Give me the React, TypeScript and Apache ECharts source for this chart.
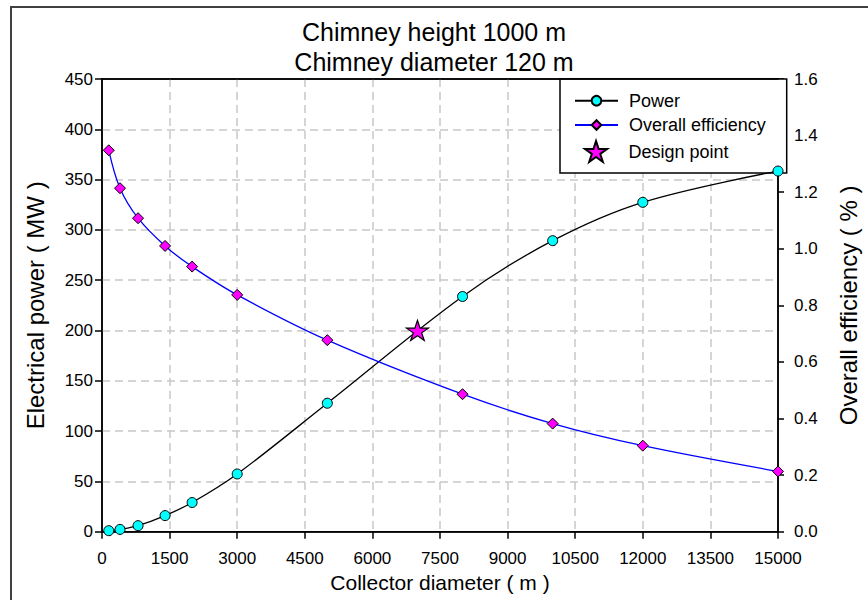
import React, { useEffect, useRef } from "react";
import * as echarts from "echarts";

// ---- data ----
const collectorDiameter = [150, 400, 800, 1400, 2000, 3000, 5000, 8000, 10000, 12000, 15000];
const electricalPower = [1, 2.3, 6, 16, 29, 57.4, 127.7, 233.8, 289.3, 327.4, 358.5];
const overallEfficiency = [1.348, 1.214, 1.108, 1.01, 0.937, 0.837, 0.677, 0.486, 0.382, 0.304, 0.213];
const designDiameter = [7000];
const designPower = [200];

const titleLines = ["Chimney height 1000 m", "Chimney diameter 120 m"];
const seriesNames = ["Power", "Overall efficiency", "Design point"];

const FONT = "'Liberation Sans', Arial, Helvetica, sans-serif";
const STAR =
  "path://M50 0 L61.23 34.55 L97.55 34.55 L68.16 55.9 L79.39 90.45 L50 69.1 L20.61 90.45 L31.84 55.9 L2.45 34.55 L38.77 34.55 Z";

const gridLine = {
  show: true,
  showMinLine: false,
  showMaxLine: false,
  lineStyle: { color: "#c8c8c8", type: [8, 5] as any, width: 1.5 },
};
const axisLineStyle = { show: true, onZero: false, lineStyle: { color: "#000", width: 1.5 } };

export default function App() {
  const ref = useRef<HTMLDivElement>(null);

  useEffect(() => {
    if (!ref.current) return;
    const chart = echarts.init(ref.current, null, { renderer: "svg" });

    const option: any = {
      animation: false,
      backgroundColor: "#fff",
      textStyle: { fontFamily: FONT },
      title: {
        text: titleLines.join("\n"),
        left: "center",
        top: 17,
        padding: 0,
        textStyle: { fontSize: 25, lineHeight: 30, fontWeight: "normal", color: "#000", fontFamily: FONT },
      },
      graphic: [
        {
          type: "rect",
          z: 0,
          shape: { x: 11, y: 7, width: 1000, height: 1000 },
          style: { fill: "none", stroke: "#404040", lineWidth: 2 },
        },
        {
          type: "rect",
          z: 1,
          shape: { x: 560, y: 79, width: 226.7, height: 94 },
          style: { fill: "#fff", stroke: "#000", lineWidth: 1.5 },
        },
      ],
      legend: [
        {
          data: [seriesNames[0], seriesNames[1]],
          orient: "vertical",
          left: 574,
          top: 91.7,
          padding: 0,
          itemWidth: 43,
          itemHeight: 12,
          itemGap: 6.3,
          textStyle: { fontSize: 18, lineHeight: 18, color: "#000", fontFamily: FONT, padding: [0, 0, 0, 6] },
        },
        {
          data: [seriesNames[2]],
          orient: "vertical",
          left: 584,
          top: 140,
          padding: 0,
          itemWidth: 43,
          itemHeight: 21,
          textStyle: { fontSize: 18, lineHeight: 18, color: "#000", fontFamily: FONT, padding: [0, 0, 0, 6] },
        },
      ],
      grid: {
        left: 102,
        right: 81.3,
        top: 79,
        bottom: 68.3,
        show: true,
        borderColor: "#000",
        borderWidth: 1.5,
        backgroundColor: "transparent",
      },
      xAxis: [
        {
          type: "value",
          position: "bottom",
          min: 0,
          max: 15000,
          interval: 1500,
          name: "Collector diameter ( m )",
          nameLocation: "middle",
          nameGap: 39,
          nameTextStyle: { fontSize: 21, color: "#000", fontFamily: FONT },
          axisLine: axisLineStyle,
          axisTick: { show: true, length: 7, lineStyle: { color: "#000", width: 1.5 } },
          axisLabel: {
            fontSize: 17,
            color: "#000",
            margin: 18,
            fontFamily: FONT,
            formatter: (v: number) => String(v),
          },
          splitLine: gridLine,
        },
        {
          type: "value",
          position: "top",
          min: 0,
          max: 15000,
          interval: 1500,
          axisLine: axisLineStyle,
          axisTick: { show: false },
          axisLabel: { show: false },
          splitLine: { show: false },
          z: 5,
        },
      ],
      yAxis: [
        {
          type: "value",
          position: "left",
          min: 0,
          max: 450,
          interval: 50,
          name: "Electrical power ( MW )",
          nameLocation: "middle",
          nameRotate: 90,
          nameGap: 55,
          nameTextStyle: { fontSize: 24, color: "#000", fontFamily: FONT },
          axisLine: axisLineStyle,
          axisTick: { show: true, length: 7, lineStyle: { color: "#000", width: 1.5 } },
          axisLabel: { fontSize: 17, color: "#000", margin: 9, fontFamily: FONT },
          splitLine: gridLine,
        },
        {
          type: "value",
          position: "right",
          min: 0,
          max: 1.6,
          interval: 0.2,
          name: "Overall efficiency ( % )",
          nameLocation: "middle",
          nameRotate: 90,
          nameGap: 58,
          nameTextStyle: { fontSize: 24, color: "#000", fontFamily: FONT },
          axisLine: axisLineStyle,
          axisTick: { show: true, length: 6, lineStyle: { color: "#000", width: 1.5 } },
          axisLabel: {
            fontSize: 17,
            color: "#000",
            margin: 16,
            fontFamily: FONT,
            formatter: (v: number) => v.toFixed(1),
          },
          splitLine: { show: false },
        },
      ],
      series: [
        {
          name: seriesNames[0],
          type: "line",
          xAxisIndex: 0,
          yAxisIndex: 0,
          data: collectorDiameter.map((d, i) => [d, electricalPower[i]]),
          smooth: 0.35,
          symbol: "circle",
          symbolSize: 10,
          itemStyle: { color: "#00ffff", borderColor: "#000", borderWidth: 1 },
          lineStyle: { color: "#000", width: 1.3 },
          z: 3,
        },
        {
          name: seriesNames[1],
          type: "line",
          xAxisIndex: 0,
          yAxisIndex: 1,
          data: collectorDiameter.map((d, i) => [d, overallEfficiency[i]]),
          smooth: 0.35,
          symbol: "diamond",
          symbolSize: 11,
          itemStyle: { color: "#ff00ff", borderColor: "#000", borderWidth: 1 },
          lineStyle: { color: "#0000ff", width: 1.3 },
          z: 3,
        },
        {
          name: seriesNames[2],
          type: "scatter",
          xAxisIndex: 0,
          yAxisIndex: 0,
          data: designDiameter.map((d, i) => [d, designPower[i]]),
          symbol: STAR,
          symbolKeepAspect: true,
          symbolSize: [22, 21],
          itemStyle: { color: "#ff00ff", borderColor: "#000", borderWidth: 1.2, opacity: 1 },
          z: 4,
        },
      ],
    };

    chart.setOption(option);
    return () => chart.dispose();
  }, []);

  return (
    <div
      ref={ref}
      style={{ position: "absolute", left: 0, top: 0, width: 868, height: 600 }}
    />
  );
}
